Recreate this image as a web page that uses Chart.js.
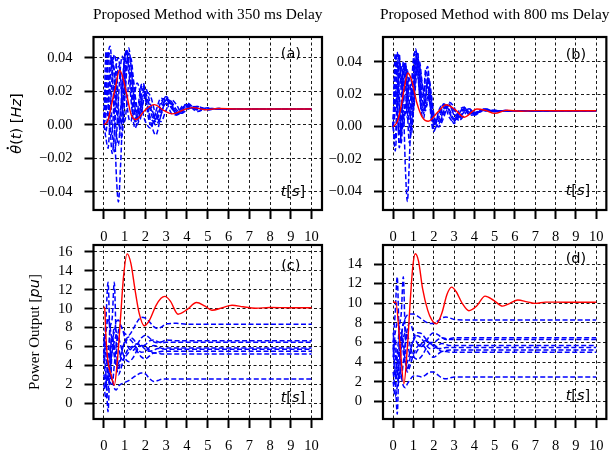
<!DOCTYPE html>
<html>
<head>
<meta charset="utf-8">
<script src="https://cdn.jsdelivr.net/npm/chart.js@4.4.1/dist/chart.umd.min.js"></script>
<style>
  html, body { margin: 0; padding: 0; background: #fff; }
  #wrap { position: relative; width: 613px; height: 456px; }
  #wrap canvas { position: absolute; left: 0; top: 0; }
</style>
</head>
<body>
<div id="wrap">
  <canvas id="pa" width="613" height="456"></canvas>
  <canvas id="pb" width="613" height="456"></canvas>
  <canvas id="pc" width="613" height="456"></canvas>
  <canvas id="pd" width="613" height="456"></canvas>
</div>
<script>
// ---- data ----
const xTicks = [0, 1, 2, 3, 4, 5, 6, 7, 8, 9, 10];
const freqTicksA = [-0.04, -0.02, 0, 0.02, 0.04];
const freqTicksB = [-0.04, -0.02, 0, 0.02, 0.04];
const powerTicksC = [0, 2, 4, 6, 8, 10, 12, 14, 16];
const powerTicksD = [0, 2, 4, 6, 8, 10, 12, 14];

// time samples for the blue (generator) traces
const tFreq = [0, 0.1, 0.2, 0.3, 0.4, 0.5, 0.6, 0.7, 0.8, 0.9, 1.0, 1.1, 1.2, 1.3, 1.4, 1.5, 1.6, 1.7, 1.8, 1.9,
  2.0, 2.25, 2.5, 2.75, 3.0, 3.25, 3.5, 3.75, 4.0, 4.5, 5.0, 5.5, 6.0, 7, 8, 9, 10];
const tPower = [0, 0.1, 0.2, 0.3, 0.4, 0.5, 0.6, 0.7, 0.8, 0.9, 1.0, 1.2, 1.4, 1.6, 1.8, 2.0, 2.2, 2.4, 2.6, 2.8,
  3.0, 3.5, 4, 4.5, 5, 6, 7, 8, 9, 10];

// (a) 350 ms delay - frequency deviation
const freqA = [
  [0, .012, .040, .047, .030, .005, -.030, -.046, -.025, .005, .030, .044, .046, .036, .022, .010, .004, .006, .014, .020, .022, .012, .004, .010, .015, .011, .007, .009, .012, .010, .0092, .0098, .0095, .0095, .0095, .0095, .0095],
  [0, .044, .030, .000, -.017, -.005, .020, .035, .030, .012, .018, .035, .043, .036, .020, .006, .000, .004, .012, .018, .016, .002, -.006, .006, .016, .013, .006, .009, .013, .009, .0100, .0094, .0096, .0095, .0095, .0095, .0095],
  [0, .020, .038, .043, .032, .012, -.005, -.012, .005, .025, .040, .045, .038, .022, .008, .002, .006, .016, .024, .025, .018, .004, .002, .012, .017, .012, .006, .008, .012, .010, .0090, .0098, .0095, .0095, .0095, .0095, .0095],
  [0, -.008, -.014, .005, .030, .042, .035, .012, -.008, -.004, .015, .032, .040, .040, .030, .016, .006, .002, .006, .014, .020, .017, .006, .002, .009, .015, .012, .007, .009, .011, .0093, .0097, .0095, .0095, .0095, .0095, .0095],
  [0, .030, .044, .025, -.002, -.016, -.008, .015, .035, .041, .030, .014, .004, .002, .010, .020, .025, .022, .014, .006, .002, -.002, .008, .016, .014, .007, .006, .011, .012, .008, .0102, .0093, .0096, .0095, .0095, .0095, .0095],
  [0, .006, .022, .036, .040, .028, .010, .000, .008, .026, .040, .043, .032, .016, .004, -.002, .002, .012, .022, .024, .016, .000, .004, .014, .016, .010, .007, .010, .012, .009, .0096, .0096, .0095, .0095, .0095, .0095, .0095],
  [0, .026, .015, -.006, -.004, .018, .036, .040, .028, .008, .002, .012, .026, .032, .028, .018, .010, .006, .008, .014, .017, .010, .003, .008, .013, .013, .008, .008, .011, .010, .0094, .0097, .0095, .0095, .0095, .0095, .0095],
  [0, -.004, .010, .028, .038, .033, .016, .002, -.002, .012, .028, .038, .036, .026, .014, .006, .004, .010, .018, .022, .020, .008, .000, .006, .015, .014, .009, .007, .010, .011, .0091, .0097, .0095, .0095, .0095, .0095, .0095],
];
const tRedA = [0, 0.2, 0.4, 0.55, 0.75, 0.9, 1.07, 1.31, 1.55, 2.0, 2.42, 2.9, 3.3, 3.86, 4.3, 4.9, 5.5, 6.5, 8, 10];
const redA = [0, .003, .014, .022, .0327, .029, .020, .0062, .0032, .0091, .0121, .0085, .0066, .0091, .0103, .0091, .0098, .0095, .0095, .0095];

// (b) 800 ms delay - frequency deviation
const freqB = [
  [0, .030, .046, .020, -.010, .010, -.025, -.046, -.020, .015, .038, .048, .040, .025, .012, .010, .020, .030, .022, .008, -.002, .004, .012, .009, .004, .008, .011, .008, .0085, .0105, .0093, .0099, .0098, .0098, .0098, .0098, .0098],
  [0, .045, .025, -.013, .000, .030, .040, .020, .000, -.005, .015, .040, .046, .032, .018, .020, .035, .030, .015, .002, -.003, .010, .014, .006, .003, .010, .012, .007, .0075, .011, .0095, .0097, .0098, .0098, .0098, .0098, .0098],
  [0, .015, .040, .042, .025, .035, .038, .010, -.010, .000, .025, .044, .045, .030, .015, .008, .015, .028, .026, .014, .004, .000, .010, .013, .008, .005, .010, .010, .0080, .0100, .0100, .0096, .0098, .0098, .0098, .0098, .0098],
  [0, -.008, .020, .040, .030, .015, .030, .035, .015, .000, .010, .030, .040, .038, .028, .022, .025, .024, .015, .006, .002, .006, .013, .011, .005, .006, .011, .009, .0070, .0110, .0092, .0099, .0098, .0098, .0098, .0098, .0098],
  [0, .025, .010, -.005, .015, .040, .030, .005, .005, .025, .042, .046, .036, .020, .010, .015, .032, .037, .024, .010, .001, .008, .014, .010, .002, .008, .012, .008, .0082, .0104, .0094, .0098, .0098, .0098, .0098, .0098, .0098],
  [0, .010, .035, .045, .020, .000, .012, .025, .030, .020, .020, .035, .042, .036, .022, .012, .010, .018, .020, .012, .006, .003, .008, .013, .010, .006, .009, .011, .0078, .0102, .0097, .0097, .0098, .0098, .0098, .0098, .0098],
  [0, .035, .040, .012, -.005, .020, .038, .028, .008, .012, .032, .042, .034, .020, .008, .005, .016, .030, .028, .016, .006, .002, .011, .014, .007, .004, .010, .010, .0088, .0097, .0101, .0096, .0098, .0098, .0098, .0098, .0098],
  [0, -.015, .005, .030, .038, .020, .008, .018, .025, .018, .010, .025, .038, .040, .030, .020, .012, .015, .022, .018, .008, .000, .006, .015, .012, .004, .007, .011, .0085, .0100, .0098, .0097, .0098, .0098, .0098, .0098, .0098],
];
const tRedB = [0, 0.2, 0.4, 0.55, 0.72, 0.9, 1.17, 1.45, 1.73, 2.2, 2.61, 3.05, 3.5, 4.13, 4.55, 5.0, 5.6, 6.3, 7, 8, 10];
const redB = [0, .003, .013, .024, .033, .029, .0146, .0055, .0033, .0090, .0135, .0105, .0058, .0109, .0100, .0082, .0101, .0095, .0099, .0098, .0098];

// (c) 350 ms delay - power output
const powerC = [
  [6.0, 7.5, 9.0, 8.0, 6.8, 7.6, 8.6, 8.8, 8.3, 7.8, 7.4, 7.2, 7.8, 8.6, 9.1, 9.0, 8.6, 8.1, 7.9, 8.1, 8.4, 8.45, 8.35, 8.35, 8.35, 8.35, 8.35, 8.35, 8.35, 8.35],
  [6.0, 9.0, 12.8, 6.0, 2.0, 4.0, 6.2, 7.6, 8.2, 7.8, 7.0, 5.8, 5.6, 6.2, 6.9, 7.2, 6.9, 6.5, 6.4, 6.5, 6.7, 6.6, 6.6, 6.6, 6.6, 6.6, 6.6, 6.6, 6.6, 6.6],
  [5.5, 2.0, 4.8, 8.0, 9.0, 12.8, 6.0, 3.5, 4.5, 5.8, 6.5, 7.0, 6.8, 6.3, 6.0, 6.2, 6.6, 6.7, 6.5, 6.4, 6.45, 6.45, 6.45, 6.45, 6.45, 6.45, 6.45, 6.45, 6.45, 6.45],
  [5.8, 3.0, -0.9, 5.0, 6.8, 5.0, 4.0, 4.2, 5.0, 5.8, 6.4, 6.8, 6.4, 5.8, 5.4, 5.5, 5.9, 6.1, 6.0, 5.8, 5.85, 5.85, 5.85, 5.85, 5.85, 5.85, 5.85, 5.85, 5.85, 5.85],
  [4.5, 6.5, 3.0, 2.0, 6.0, 8.0, 7.5, 6.0, 5.0, 4.6, 4.8, 5.4, 6.0, 6.3, 6.1, 5.7, 5.5, 5.6, 5.8, 5.75, 5.7, 5.7, 5.7, 5.7, 5.7, 5.7, 5.7, 5.7, 5.7, 5.7],
  [7.0, 5.0, 3.0, 4.0, 5.5, 6.5, 7.2, 7.0, 6.2, 5.4, 4.8, 4.4, 4.8, 5.6, 6.1, 6.0, 5.6, 5.3, 5.4, 5.5, 5.5, 5.5, 5.5, 5.5, 5.5, 5.5, 5.5, 5.5, 5.5, 5.5],
  [3.0, 1.5, 3.5, 5.5, 7.0, 6.0, 4.0, 3.0, 3.5, 4.3, 5.0, 5.8, 6.0, 5.5, 4.9, 4.7, 5.0, 5.3, 5.3, 5.2, 5.2, 5.2, 5.2, 5.2, 5.2, 5.2, 5.2, 5.2, 5.2, 5.2],
  [2.0, 0.5, 1.5, 3.0, 2.5, 1.6, 1.4, 1.8, 2.0, 2.1, 2.2, 2.4, 2.7, 3.0, 3.2, 3.1, 2.6, 2.3, 2.4, 2.55, 2.55, 2.55, 2.55, 2.55, 2.55, 2.55, 2.55, 2.55, 2.55, 2.55],
];
const tRedC = [0, 0.04, 0.1, 0.19, 0.35, 0.5, 0.65, 0.8, 0.95, 1.12, 1.3, 1.5, 1.7, 1.94, 2.2, 2.5, 2.75, 2.94, 3.2, 3.57,
  4.0, 4.46, 4.85, 5.2, 5.7, 6.17, 6.7, 7.3, 8, 9, 10];
const redC = [10.2, 10.0, 7.0, 4.5, 3.0, 1.9, 4.5, 9.0, 13.5, 15.8, 14.8, 12.0, 9.5, 8.2, 8.8, 10.3, 11.1, 11.3, 10.8, 9.42,
  9.9, 10.66, 10.3, 9.84, 10.1, 10.37, 10.2, 10.05, 10.12, 10.1, 10.1];

// (d) 800 ms delay - power output
const powerD = [
  [6.0, 7.0, 8.0, 7.5, 7.0, 7.8, 8.5, 8.8, 8.9, 8.9, 8.9, 8.7, 8.4, 8.1, 7.95, 7.95, 8.2, 8.5, 8.6, 8.5, 8.35, 8.3, 8.3, 8.3, 8.3, 8.3, 8.3, 8.3, 8.3, 8.3],
  [6.0, 9.0, 12.7, 6.0, 2.5, 4.0, 6.0, 7.4, 8.0, 7.7, 7.0, 5.9, 5.6, 6.0, 6.7, 7.0, 6.8, 6.5, 6.3, 6.4, 6.5, 6.5, 6.5, 6.5, 6.5, 6.5, 6.5, 6.5, 6.5, 6.5],
  [5.5, 2.5, 4.5, 7.5, 9.0, 12.7, 6.0, 3.2, 4.0, 5.5, 6.4, 7.0, 6.9, 6.4, 6.0, 6.0, 6.3, 6.5, 6.4, 6.3, 6.3, 6.3, 6.3, 6.3, 6.3, 6.3, 6.3, 6.3, 6.3, 6.3],
  [5.8, 3.0, -1.3, 5.0, 6.8, 5.0, 3.8, 4.0, 4.8, 5.6, 6.2, 6.7, 6.4, 5.8, 5.4, 5.4, 5.7, 5.9, 5.8, 5.7, 5.7, 5.7, 5.7, 5.7, 5.7, 5.7, 5.7, 5.7, 5.7, 5.7],
  [4.5, 6.5, 3.0, 2.0, 6.0, 8.0, 7.4, 6.0, 5.0, 4.5, 4.6, 5.2, 5.9, 6.2, 6.0, 5.6, 5.4, 5.4, 5.5, 5.5, 5.5, 5.5, 5.5, 5.5, 5.5, 5.5, 5.5, 5.5, 5.5, 5.5],
  [7.0, 5.0, 3.0, 4.0, 5.5, 6.5, 7.0, 6.8, 6.0, 5.2, 4.6, 4.3, 4.6, 5.3, 5.9, 5.8, 5.4, 5.1, 5.2, 5.25, 5.25, 5.25, 5.25, 5.25, 5.25, 5.25, 5.25, 5.25, 5.25, 5.25],
  [3.0, 1.5, 3.5, 5.5, 7.0, 6.0, 4.0, 3.0, 3.4, 4.1, 4.8, 5.6, 5.8, 5.4, 4.8, 4.5, 4.8, 5.1, 5.1, 5.0, 5.0, 5.0, 5.0, 5.0, 5.0, 5.0, 5.0, 5.0, 5.0, 5.0],
  [2.0, 0.5, 1.5, 3.0, 2.5, 1.6, 1.4, 1.8, 2.1, 2.4, 2.6, 2.6, 2.5, 2.7, 3.0, 3.0, 2.7, 2.4, 2.3, 2.4, 2.5, 2.5, 2.5, 2.5, 2.5, 2.5, 2.5, 2.5, 2.5, 2.5],
];
const tRedD = [0, 0.13, 0.33, 0.53, 0.7, 0.85, 0.97, 1.09, 1.25, 1.45, 1.7, 1.9, 2.13, 2.4, 2.65, 2.88, 3.1, 3.4, 3.73, 4.1,
  4.53, 4.95, 5.39, 5.75, 6.14, 6.6, 7.02, 7.5, 8, 9, 10];
const redD = [10.1, 10.1, 6.0, 1.8, 5.5, 10.5, 13.8, 15.05, 14.3, 11.5, 9.3, 8.3, 7.9, 9.0, 10.9, 11.65, 11.2, 10.0, 9.24, 9.7,
  10.73, 10.3, 9.71, 10.0, 10.33, 10.15, 9.99, 10.12, 10.12, 10.1, 10.1];

// ---- drawing helpers ----
const W = 613, H = 456, YW = 60, XH = 40;
const SERIF = '"Liberation Serif", "Times New Roman", serif';
const SANS_IT = 'italic 14.5px "DejaVu Sans"';
const SANS_RG = '14.5px "DejaVu Sans"';

// draw a run of differently styled pieces centred on (cx, cy)
const rich = (ctx, parts, cx, cy, rot) => {
    ctx.save();
    ctx.translate(cx, cy);
    ctx.rotate(rot || 0);
    ctx.textAlign = 'left';
    ctx.textBaseline = 'middle';
    ctx.fillStyle = '#000';
    let w = 0;
    parts.forEach(p => { ctx.font = p[1]; w += ctx.measureText(p[0]).width; });
    let x = -w / 2;
    parts.forEach(p => {
        ctx.font = p[1];
        const pw = ctx.measureText(p[0]).width;
        ctx.fillText(p[0], x, 0);
        if (p[2] === 'dot') {
            ctx.beginPath();
            ctx.arc(x + pw * 0.62, -9.8, 1.15, 0, Math.PI * 2);
            ctx.fill();
        }
        x += pw;
    });
    ctx.restore();
};

const deco = {
    id: 'deco',
    afterDatasetsDraw(chart, args, o) {
        const { ctx, chartArea: a, scales: { x, y } } = chart;
        ctx.save();
        ctx.strokeStyle = '#000';
        ctx.lineWidth = 2.2;
        ctx.strokeRect(a.left, a.top, a.right - a.left, a.bottom - a.top);
        ctx.fillStyle = '#000';
        ctx.font = '14.5px "DejaVu Sans"';
        ctx.textAlign = 'center';
        ctx.textBaseline = 'middle';
        ctx.fillText(o.tag, x.getPixelForValue(9.0), y.getPixelForValue(o.tagY));
        ctx.restore();
        rich(ctx, [['t', SANS_IT], ['[', SANS_RG], ['s', SANS_IT], [']', SANS_RG]],
            x.getPixelForValue(9.1), y.getPixelForValue(o.tsY), 0);
        if (o.title) {
            ctx.save();
            ctx.fillStyle = '#000';
            ctx.font = '15.4px ' + SERIF;
            ctx.textAlign = 'center';
            ctx.textBaseline = 'middle';
            ctx.fillText(o.title, (a.left + a.right) / 2, 14.5);
            ctx.restore();
        }
        if (o.ylabel) rich(ctx, o.ylabel, o.ylabelX, (a.top + a.bottom) / 2, -Math.PI / 2);
    },
};

const fmtFreq = v => (v < 0 ? '\u2212' : '') + Math.abs(v).toFixed(2);
const fmtInt = v => String(v);

const panel = (id, box, cfg) => {
    const datasets = [{
        data: cfg.tRed.map((t, i) => ({ x: t, y: cfg.red[i] })),
        borderColor: '#ff0000', borderWidth: 1.4, pointRadius: 0, fill: false,
        cubicInterpolationMode: 'monotone',
    }];
    cfg.blue.forEach(vals => datasets.push({
        data: cfg.tBlue.map((t, i) => ({ x: t, y: vals[i] })),
        borderColor: '#0000ff', borderWidth: 1.5, borderDash: [5, 2.5], pointRadius: 0, fill: false,
        cubicInterpolationMode: 'monotone',
    }));
    const axisBase = (ticks, fmt) => ({
        type: 'linear',
        afterBuildTicks: s => { s.ticks = ticks.map(v => ({ value: v })); },
        grid: { color: '#000', lineWidth: 0.9, tickLength: 9, tickColor: '#000', tickWidth: 2 },
        border: { display: false, dash: [3, 2.5] },
        ticks: { color: '#000', font: { family: SERIF, size: 14.5 }, autoSkip: false, maxRotation: 0, callback: fmt },
    });
    const xs = axisBase(xTicks, fmtInt);
    Object.assign(xs, { min: -0.5, max: 10.5, afterFit: s => { s.height = XH; } });
    xs.ticks.padding = 9.5;
    const ys = axisBase(cfg.yTicks, cfg.fmt);
    Object.assign(ys, { min: cfg.yMin, max: cfg.yMax, afterFit: s => { s.width = YW; } });
    ys.ticks.padding = 12;
    new Chart(document.getElementById(id), {
        type: 'line',
        data: { datasets },
        options: {
            responsive: false, animation: false, devicePixelRatio: 1,
            layout: { padding: { left: box.l - YW, right: W - box.r, top: box.t, bottom: H - box.b - XH } },
            plugins: { legend: { display: false }, tooltip: { enabled: false }, deco: cfg.deco },
            scales: { x: xs, y: ys },
        },
        plugins: [deco],
    });
};

panel('pa', { l: 93.5, r: 322, t: 37, b: 210 }, {
    tBlue: tFreq, blue: freqA, tRed: tRedA, red: redA,
    yMin: -0.0508, yMax: 0.0525, yTicks: freqTicksA, fmt: fmtFreq,
    deco: {
        tag: '(a)', tagY: 0.0424, tsY: -0.040, title: 'Proposed Method with 350 ms Delay',
        ylabel: [['\u03b8', SANS_IT, 'dot'], ['(', SANS_RG], ['t', SANS_IT], [')', SANS_RG], [' [', SANS_RG], ['Hz', SANS_IT], [']', SANS_RG]],
        ylabelX: 17.5,
    },
});
panel('pb', { l: 383, r: 612, t: 37, b: 210 }, {
    tBlue: tFreq, blue: freqB, tRed: tRedB, red: redB,
    yMin: -0.0513, yMax: 0.0552, yTicks: freqTicksB, fmt: fmtFreq,
    deco: { tag: '(b)', tagY: 0.044, tsY: -0.040, title: 'Proposed Method with 800 ms Delay' },
});
panel('pc', { l: 93.5, r: 322, t: 245, b: 419 }, {
    tBlue: tPower, blue: powerC, tRed: tRedC, red: redC,
    yMin: -1.67, yMax: 16.74, yTicks: powerTicksC, fmt: fmtInt,
    deco: {
        tag: '(c)', tagY: 14.5, tsY: 0.5,
        ylabel: [['Power Output [', '15px ' + SERIF], ['pu', SANS_IT], [']', '15px ' + SERIF]],
        ylabelX: 35,
    },
});
panel('pd', { l: 383, r: 612, t: 245, b: 419 }, {
    tBlue: tPower, blue: powerD, tRed: tRedD, red: redD,
    yMin: -1.79, yMax: 15.94, yTicks: powerTicksD, fmt: fmtInt,
    deco: { tag: '(d)', tagY: 14.5, tsY: 0.5 },
});
</script>
</body>
</html>
